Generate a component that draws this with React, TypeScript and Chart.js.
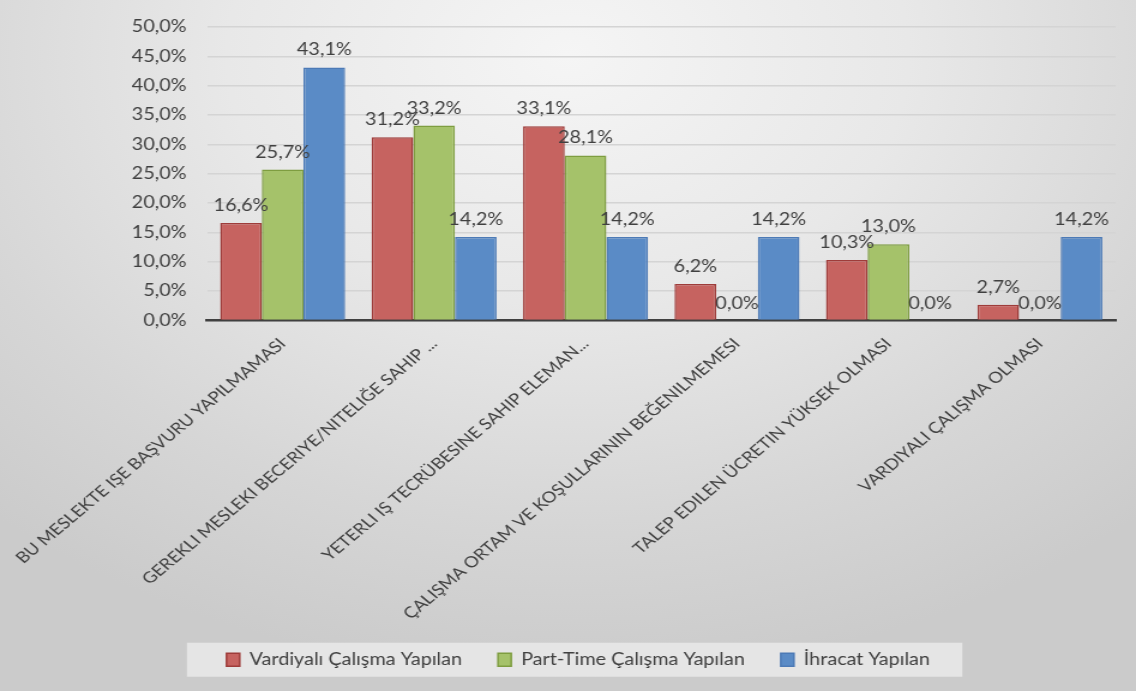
import React, { useEffect, useRef } from "react";
import { Chart, registerables } from "chart.js";

Chart.register(...registerables);

const categories = [
  "BU MESLEKTE IŞE BAŞVURU YAPILMAMASI",
  "GEREKLI MESLEKI BECERIYE/NITELIĞE SAHIP ...",
  "YETERLI IŞ TECRÜBESINE SAHIP ELEMAN...",
  "ÇALIŞMA ORTAM VE KOŞULLARININ BEĞENILMEMESI",
  "TALEP EDILEN ÜCRETIN YÜKSEK OLMASI",
  "VARDIYALI ÇALIŞMA OLMASI",
];

const seriesNames = ["Vardiyalı Çalışma Yapılan", "Part-Time Çalışma Yapılan", "İhracat Yapılan"];
const vardiyali = [16.6, 31.2, 33.1, 6.2, 10.3, 2.7];
const partTime = [25.7, 33.2, 28.1, 0.0, 13.0, 0.0];
const ihracat = [43.1, 14.2, 14.2, 14.2, 0.0, 14.2];

const yMin = 0;
const yMax = 50;
const yStep = 5;

const fillColors = ["#C66360", "#A5C26A", "#5A8BC6"];
const edgeColors = ["#9E3C3A", "#7E9D40", "#4C7AB6"];

// The reference is horizontally stretched; draw at a narrower internal width and scale via CSS.
const STRETCH = 1.2;
const OUT_W = 1136;
const OUT_H = 691;
const IN_W = Math.round(OUT_W / STRETCH);

const FONT = "Lato, 'Open Sans', sans-serif";
const TEXT = "#404040";

const fmt = (v: number) => v.toFixed(1).replace(".", ",") + "%";

export default function App() {
  const ref = useRef<HTMLCanvasElement | null>(null);

  useEffect(() => {
    if (!ref.current) return;

    const legendBg = {
      id: "legendBg",
      beforeDraw(chart: any) {
        const lg = chart.legend;
        if (!lg || !lg.legendHitBoxes || !lg.legendHitBoxes.length) return;
        const hb = lg.legendHitBoxes;
        const left = Math.min(...hb.map((h: any) => h.left)) - 33;
        const right = Math.max(...hb.map((h: any) => h.left + h.width)) + 27;
        const cy = hb[0].top + hb[0].height / 2;
        const ctx = chart.ctx;
        ctx.save();
        ctx.fillStyle = "#e5e5e5";
        ctx.fillRect(left, cy - 17, right - left, 34);
        ctx.restore();
      },
    };

    const dataLabels = {
      id: "dataLabels",
      afterDatasetsDraw(chart: any) {
        const ctx = chart.ctx;
        ctx.save();
        ctx.font = `16.5px ${FONT}`;
        ctx.fillStyle = TEXT;
        ctx.textAlign = "center";
        ctx.textBaseline = "alphabetic";
        chart.data.datasets.forEach((ds: any, i: number) => {
          const meta = chart.getDatasetMeta(i);
          meta.data.forEach((el: any, j: number) => {
            ctx.fillText(fmt(ds.data[j]), el.x, el.y - 12);
          });
        });
        ctx.restore();
      },
    };

    const series = [vardiyali, partTime, ihracat];

    const chart = new Chart(ref.current, {
      type: "bar",
      data: {
        labels: categories,
        datasets: series.map((d, i) => ({
          label: seriesNames[i],
          data: d,
          backgroundColor: fillColors[i],
          borderColor: edgeColors[i],
          borderWidth: 1.5,
          categoryPercentage: 0.825,
          barPercentage: 1.0,
        })),
      },
      options: {
        animation: false,
        responsive: false,
        maintainAspectRatio: false,
        devicePixelRatio: 1,
        layout: { padding: { left: 34, right: 17, top: 18, bottom: 13 } },
        plugins: {
          tooltip: { enabled: false },
          legend: {
            position: "bottom",
            labels: {
              boxWidth: 11,
              boxHeight: 13,
              padding: 30,
              color: TEXT,
              font: { family: FONT, size: 16.5 },
            },
          },
        },
        scales: {
          x: {
            grid: { display: false, drawTicks: false },
            border: { display: true, color: "#404040", width: 2.5 },
            ticks: {
              autoSkip: false,
              minRotation: 45,
              maxRotation: 45,
              padding: 14,
              color: TEXT,
              font: { family: FONT, size: 15.5 },
            },
            afterFit: (s: any) => {
              s.height = 301;
              s.paddingLeft = 0;
              s.paddingRight = 0;
            },
          },
          y: {
            min: yMin,
            max: yMax,
            grid: { color: "#d4d4d4", lineWidth: 1.5, drawTicks: false },
            border: { display: false },
            ticks: {
              stepSize: yStep,
              padding: 17,
              color: TEXT,
              font: { family: FONT, size: 16.5 },
              callback: (v: any) => fmt(Number(v)),
            },
            afterFit: (s: any) => {
              s.width = 138.5;
            },
          },
        },
      },
      plugins: [legendBg, dataLabels],
    });

    return () => chart.destroy();
  }, []);

  return (
    <div
      style={{
        position: "absolute",
        left: 0,
        top: 0,
        width: OUT_W,
        height: OUT_H,
        overflow: "hidden",
        background:
          "radial-gradient(ellipse 75% 90% at 50% 8%, #f5f5f5 0%, #e8e8e8 40%, #d6d6d6 75%, #cbcbcb 100%)",
      }}
    >
      <canvas
        ref={ref}
        width={IN_W}
        height={OUT_H}
        style={{ width: OUT_W + "px", height: OUT_H + "px", display: "block" }}
      />
    </div>
  );
}
